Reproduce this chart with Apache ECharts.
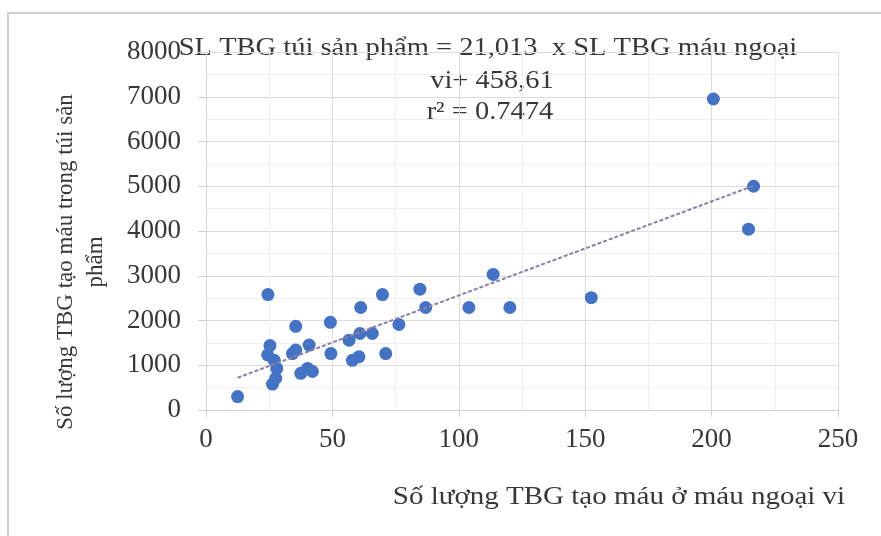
<!DOCTYPE html>
<html><head><meta charset="utf-8">
<script src="https://cdn.jsdelivr.net/npm/echarts@6/dist/echarts.min.js"></script>
<style>html,body{margin:0;padding:0;background:#fff}#c{width:881px;height:536px}</style>
</head><body><div id="c"></div>
<script>
// Data
const xValues = [12.5, 24.5, 25.3, 24.4, 27.0, 28.0, 27.6, 26.3, 34.2, 35.5, 35.5, 40.8, 37.5, 40.2, 42.1, 49.2, 49.4, 56.6, 60.9, 61.2, 65.8, 57.9, 60.5, 69.8, 71.1, 76.3, 84.6, 86.9, 104.0, 113.6, 120.2, 152.4, 200.7, 216.6, 214.6];
const yValues = [300, 2580, 1440, 1230, 1110, 930, 710, 580, 1260, 1340, 1870, 1450, 820, 930, 860, 1960, 1260, 1560, 1710, 2290, 1710, 1110, 1190, 2580, 1260, 1910, 2700, 2290, 2290, 3030, 2290, 2510, 6950, 5000, 4040];
const xTicks = [0, 50, 100, 150, 200, 250];
const yTicks = [0, 1000, 2000, 3000, 4000, 5000, 6000, 7000, 8000];
const trendSlope = 21.013;
const trendIntercept = 458.61;
const eqLines = ['SL TBG túi sản phẩm = 21,013  x SL TBG máu ngoại', 'vi+ 458,61', 'r² = 0.7474'];
const xTitle = 'Số lượng TBG tạo máu ở máu ngoại vi';
const yTitle = ['Số lượng TBG tạo máu trong túi sản', 'phẩm'];

const points = xValues.map((x, i) => [x, yValues[i]]);
const xMin = Math.min(...xValues), xMax = Math.max(...xValues);
const trend = [[xMin, trendSlope * xMin + trendIntercept], [xMax, trendSlope * xMax + trendIntercept]];

const FONT = '"Liberation Serif", "Times New Roman", serif';
const TXT = '#383838';
const chart = echarts.init(document.getElementById('c'));
chart.setOption({
  animation: false,
  backgroundColor: '#fff',
  grid: {left: 206, right: 43, top: 52, bottom: 126, containLabel: false},
  xAxis: {
    type: 'value', min: xTicks[0], max: xTicks[xTicks.length - 1], interval: 50,
    axisLine: {show: true, lineStyle: {color: '#d0d0d0', width: 1}},
    axisTick: {show: true, length: 7, lineStyle: {color: '#d0d0d0'}},
    axisLabel: {margin: 16, fontFamily: FONT, fontSize: 27, color: TXT, formatter: v => String(v)},
    splitLine: {show: true, lineStyle: {color: '#dcdcdc'}},
    minorTick: {show: false, splitNumber: 2},
    minorSplitLine: {show: true, lineStyle: {color: '#efefef'}}
  },
  yAxis: {
    type: 'value', min: yTicks[0], max: yTicks[yTicks.length - 1], interval: 1000,
    axisLine: {show: true, lineStyle: {color: '#d6d6d6'}},
    axisTick: {show: true, length: 8, lineStyle: {color: '#d0d0d0'}},
    axisLabel: {margin: 25, fontFamily: FONT, fontSize: 27, color: TXT, formatter: v => String(v)},
    splitLine: {show: true, lineStyle: {color: '#dcdcdc'}},
    minorTick: {show: false, splitNumber: 2},
    minorSplitLine: {show: true, lineStyle: {color: '#efefef'}}
  },
  series: [
    {type: 'scatter', data: points, symbolSize: 13, itemStyle: {color: '#4472c4', opacity: 1}, z: 3},
    {type: 'line', data: trend, showSymbol: false, symbol: 'none', z: 4,
     lineStyle: {color: '#8d7fa6', width: 2, type: [4, 2]}}
  ],
  graphic: [
    {type: 'rect', shape: {x: 8, y: 13, width: 900, height: 600}, style: {fill: 'none', stroke: '#cfcfcf', lineWidth: 2}, z: -10},
    {type: 'text', x: 488, y: 48, scaleX: 1.14, style: {text: eqLines[0], font: '25px ' + FONT, fill: TXT, textAlign: 'center', textVerticalAlign: 'middle'}},
    {type: 'text', x: 492, y: 81, scaleX: 1.14, style: {text: eqLines[1], font: '25px ' + FONT, fill: TXT, textAlign: 'center', textVerticalAlign: 'middle'}},
    {type: 'text', x: 490, y: 112, scaleX: 1.14, style: {text: eqLines[2], font: '25px ' + FONT, fill: TXT, textAlign: 'center', textVerticalAlign: 'middle'}},
    {type: 'text', x: 619, y: 497, scaleX: 1.16, style: {text: xTitle, font: '25px ' + FONT, fill: TXT, textAlign: 'center', textVerticalAlign: 'middle'}},
    {type: 'text', x: 66, y: 262, rotation: Math.PI / 2, style: {text: yTitle[0], font: '23px ' + FONT, fill: TXT, textAlign: 'center', textVerticalAlign: 'middle'}},
    {type: 'text', x: 96, y: 262, rotation: Math.PI / 2, style: {text: yTitle[1], font: '23px ' + FONT, fill: TXT, textAlign: 'center', textVerticalAlign: 'middle'}}
  ]
});
</script>
</body></html>
